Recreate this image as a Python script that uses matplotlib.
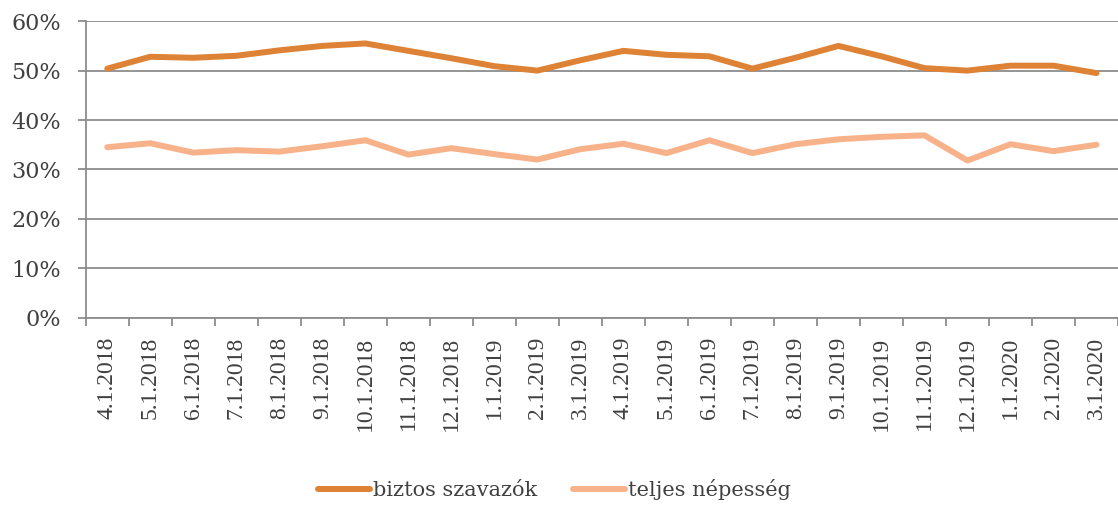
import numpy as np
import matplotlib
matplotlib.use("Agg")
import matplotlib.pyplot as plt
from matplotlib.ticker import PercentFormatter, FixedLocator

plt.rcParams['font.family'] = ['Liberation Serif', 'DejaVu Serif']

# adatok
honapok = ['4.1.2018', '5.1.2018', '6.1.2018', '7.1.2018', '8.1.2018', '9.1.2018',
           '10.1.2018', '11.1.2018', '12.1.2018', '1.1.2019', '2.1.2019', '3.1.2019',
           '4.1.2019', '5.1.2019', '6.1.2019', '7.1.2019', '8.1.2019', '9.1.2019',
           '10.1.2019', '11.1.2019', '12.1.2019', '1.1.2020', '2.1.2020', '3.1.2020']
biztos = [50.4, 52.8, 52.6, 53.0, 54.1, 55.0, 55.5, 54.0, 52.5, 50.9, 50.0, 52.1,
          54.0, 53.2, 52.9, 50.4, 52.6, 55.0, 52.9, 50.5, 50.0, 51.0, 51.0, 49.5]
teljes = [34.5, 35.3, 33.4, 33.9, 33.6, 34.7, 35.9, 33.0, 34.3, 33.1, 32.0, 34.1,
          35.2, 33.3, 35.9, 33.3, 35.1, 36.1, 36.6, 36.9, 31.8, 35.1, 33.7, 35.0]

szurke = '#8c8c8c'
szoveg = '#404040'

fig = plt.figure(figsize=(11.18, 5.05), dpi=100)
ax = fig.add_axes([0.0767, 0.371, 0.9233, 0.587])

x = np.arange(len(honapok))
ax.plot(x, biztos, color='#de8236', lw=4.3, solid_capstyle='round',
        solid_joinstyle='round', label='biztos szavazók', zorder=3)
ax.plot(x, teljes, color='#f7b28a', lw=4.3, solid_capstyle='round',
        solid_joinstyle='round', label='teljes népesség', zorder=3)

ax.set_xlim(-0.5, len(honapok) - 0.5)
ax.set_ylim(0, 60)
ax.set_yticks(np.arange(0, 61, 10))
ax.yaxis.set_major_formatter(PercentFormatter(decimals=0))
ax.grid(axis='y', color=szurke, lw=1.3)
ax.set_axisbelow(True)

ax.set_xticks(x)
ax.set_xticklabels(honapok, rotation=90, va='top', ha='center')
ax.xaxis.set_minor_locator(FixedLocator(np.arange(-0.5, len(honapok), 1)))
ax.tick_params(axis='x', which='major', length=0, pad=14, labelsize=17, labelcolor=szoveg)
ax.tick_params(axis='x', which='minor', length=6, width=1.3, color=szurke)
ax.tick_params(axis='y', length=6, width=1.3, color=szurke, pad=12, labelcolor=szoveg,
               labelsize=16, labelfontfamily='DejaVu Serif')

for s in ['top', 'right']:
    ax.spines[s].set_visible(False)
for s in ['left', 'bottom']:
    ax.spines[s].set_color(szurke)
    ax.spines[s].set_linewidth(1.3)

leg = fig.legend(loc='center', bbox_to_anchor=(0.496, 0.03), ncol=2, frameon=False,
                 prop={'family': 'DejaVu Serif', 'size': 15},
                 handlelength=2.5, handletextpad=0.15, columnspacing=1.7)
for t in leg.get_texts():
    t.set_color(szoveg)

fig.savefig('out.png', dpi=100)
